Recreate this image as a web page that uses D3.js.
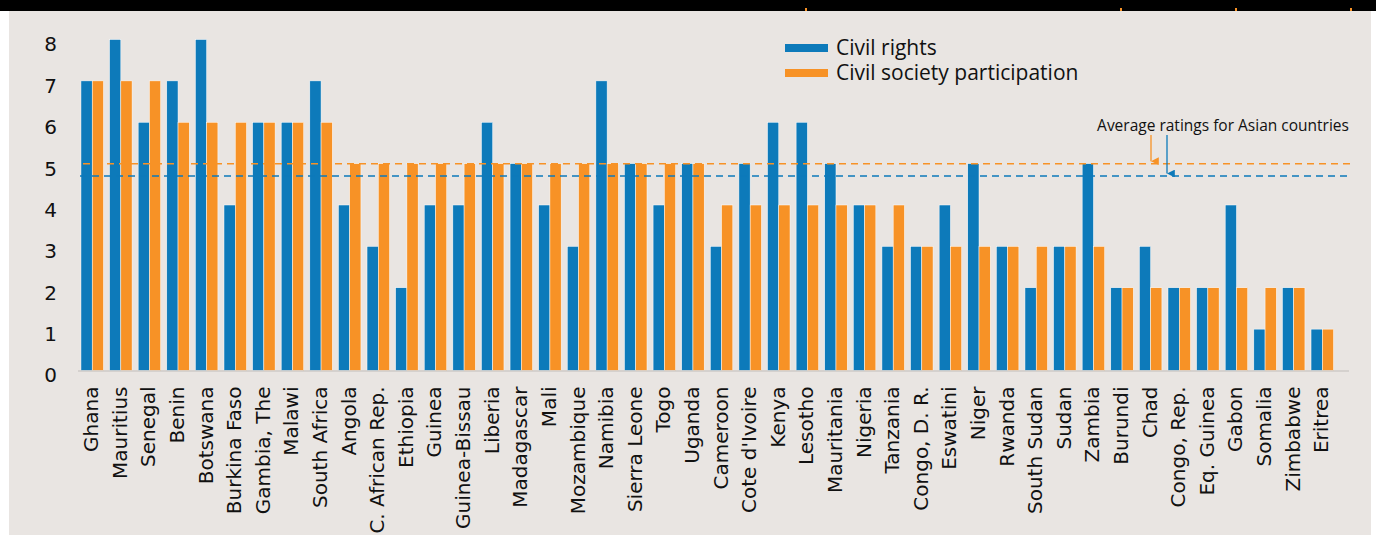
<!DOCTYPE html>
<html>
<head>
<meta charset="utf-8">
<script src="https://cdn.jsdelivr.net/npm/d3@7"></script>
<style>
  body { margin: 0; background: #ffffff; }
  svg { display: block; }
</style>
</head>
<body>
<div id="chart"></div>
<script>
// Countries and ratings
var countries = ["Ghana", "Mauritius", "Senegal", "Benin", "Botswana", "Burkina Faso", "Gambia, The", "Malawi",
  "South Africa", "Angola", "C. African Rep.", "Ethiopia", "Guinea", "Guinea-Bissau", "Liberia", "Madagascar",
  "Mali", "Mozambique", "Namibia", "Sierra Leone", "Togo", "Uganda", "Cameroon", "Cote d'Ivoire", "Kenya",
  "Lesotho", "Mauritania", "Nigeria", "Tanzania", "Congo, D. R.", "Eswatini", "Niger", "Rwanda", "South Sudan",
  "Sudan", "Zambia", "Burundi", "Chad", "Congo, Rep.", "Eq. Guinea", "Gabon", "Somalia", "Zimbabwe", "Eritrea"];
var civilRights = [7, 8, 6, 7, 8, 4, 6, 6, 7, 4, 3, 2, 4, 4, 6, 5, 4, 3, 7, 5, 4, 5, 3, 5, 6, 6, 5, 4, 3, 3, 4, 5,
  3, 2, 3, 5, 2, 3, 2, 2, 4, 1, 2, 1];
var civilSociety = [7, 7, 7, 6, 6, 6, 6, 6, 6, 5, 5, 5, 5, 5, 5, 5, 5, 5, 5, 5, 5, 5, 4, 4, 4, 4, 4, 4, 4, 3, 3, 3,
  3, 3, 3, 3, 2, 2, 2, 2, 2, 2, 2, 1];
var seriesNames = ["Civil rights", "Civil society participation"];
var asianAverages = [4.7, 5.0]; // civil rights, civil society participation
var yTicks = [0, 1, 2, 3, 4, 5, 6, 7, 8];

var W = 1376, H = 535;
var blue = "#0d7aba", orange = "#f79226", bg = "#e9e5e2";

var svg = d3.select("#chart").append("svg")
  .attr("width", W)
  .attr("height", H);

// background panel and black top strip
svg.append("rect").attr("x", 9).attr("y", 0).attr("width", 1362).attr("height", H).attr("fill", bg);
svg.append("rect").attr("x", 0).attr("y", 0).attr("width", W).attr("height", 11).attr("fill", "#000");
[805, 1120, 1235, 1350].forEach(function (px) {
  svg.append("rect").attr("x", px).attr("y", 8).attr("width", 2).attr("height", 3).attr("fill", orange);
});

// scales
var x = d3.scaleBand().domain(countries).range([78.1, 1336.4]).paddingInner(0.213).paddingOuter(0.1);
var x1 = d3.scaleBand().domain(seriesNames).range([0, x.bandwidth()]);
var y = d3.scaleLinear().domain([0, 8]).range([370.5, 39.5]);
var color = d3.scaleOrdinal().domain(seriesNames).range([blue, orange]);

var rows = countries.map(function (c, i) {
  return { country: c, values: [civilRights[i], civilSociety[i]] };
});

// bars
var groups = svg.append("g").selectAll("g")
  .data(rows)
  .join("g")
  .attr("transform", function (d) { return "translate(" + x(d.country) + ",0)"; });

groups.selectAll("rect")
  .data(function (d) { return d.values.map(function (v, k) { return { key: seriesNames[k], value: v }; }); })
  .join("rect")
  .attr("x", function (d) { return x1(d.key); })
  .attr("y", function (d) { return y(d.value); })
  .attr("width", x1.bandwidth())
  .attr("height", function (d) { return y(0) - y(d.value); })
  .attr("fill", function (d) { return color(d.key); })
  .attr("stroke", "#ffffff")
  .attr("stroke-width", 0.5);

// baseline
svg.append("line")
  .attr("x1", 78).attr("x2", 1349)
  .attr("y1", y(0) + 0.5).attr("y2", y(0) + 0.5)
  .attr("stroke", "#c2bdba").attr("stroke-width", 1.2);

// y axis labels only
var yAxis = svg.append("g")
  .attr("transform", "translate(61,5)")
  .call(d3.axisLeft(y).tickValues(yTicks).tickSize(0).tickPadding(4));
yAxis.select(".domain").remove();
yAxis.selectAll("text")
  .attr("font-family", "DejaVu Sans")
  .attr("font-size", 20)
  .attr("fill", "#111");

// x axis labels, rotated
var xAxis = svg.append("g")
  .attr("transform", "translate(0," + y(0) + ")")
  .call(d3.axisBottom(x).tickSize(0));
xAxis.select(".domain").remove();
xAxis.selectAll("text")
  .attr("font-family", "DejaVu Sans")
  .attr("font-size", 20)
  .attr("fill", "#111")
  .attr("transform", "rotate(-90)")
  .attr("text-anchor", "end")
  .attr("x", -16)
  .attr("y", 0)
  .attr("dy", "0.3em");

// Asian average lines (on top of the bars)
var avgColors = [blue, orange];
svg.append("g").selectAll("line")
  .data(asianAverages)
  .join("line")
  .attr("x1", function (d, i) { return i === 0 ? 80 : 83; })
  .attr("x2", 1351)
  .attr("y1", function (d) { return y(d); })
  .attr("y2", function (d) { return y(d); })
  .attr("stroke", function (d, i) { return avgColors[i]; })
  .attr("stroke-width", 1.5)
  .attr("stroke-dasharray", "7,5");

// annotation
svg.append("text")
  .attr("x", 1223).attr("y", 131)
  .attr("text-anchor", "middle")
  .attr("font-family", "Open Sans")
  .attr("font-size", 15.5)
  .attr("fill", "#111")
  .text("Average ratings for Asian countries");

var defs = svg.append("defs");
avgColors.forEach(function (c, i) {
  defs.append("marker")
    .attr("id", "arrow" + i)
    .attr("viewBox", "0 0 10 10")
    .attr("refX", 5).attr("refY", 10)
    .attr("markerWidth", 6).attr("markerHeight", 6)
    .attr("orient", "auto-start-reverse")
    .append("path")
    .attr("d", "M0,0 L10,0 L5,10 Z")
    .attr("fill", c);
});
var arrowX = [1167, 1151];
asianAverages.forEach(function (v, i) {
  svg.append("line")
    .attr("x1", arrowX[i]).attr("x2", arrowX[i])
    .attr("y1", 135).attr("y2", y(v) - 2.5)
    .attr("stroke", avgColors[i])
    .attr("stroke-width", 1.3)
    .attr("marker-end", "url(#arrow" + i + ")");
});

// legend
var legend = svg.append("g").attr("transform", "translate(785,44)");
seriesNames.forEach(function (name, i) {
  legend.append("rect")
    .attr("x", 0).attr("y", i * 25)
    .attr("width", 43).attr("height", 8)
    .attr("fill", color(name));
  legend.append("text")
    .attr("x", 51).attr("y", i * 25 + 4)
    .attr("dy", "0.35em")
    .attr("font-family", "Open Sans")
    .attr("font-size", 21)
    .attr("fill", "#111")
    .text(name);
});
</script>
</body>
</html>
